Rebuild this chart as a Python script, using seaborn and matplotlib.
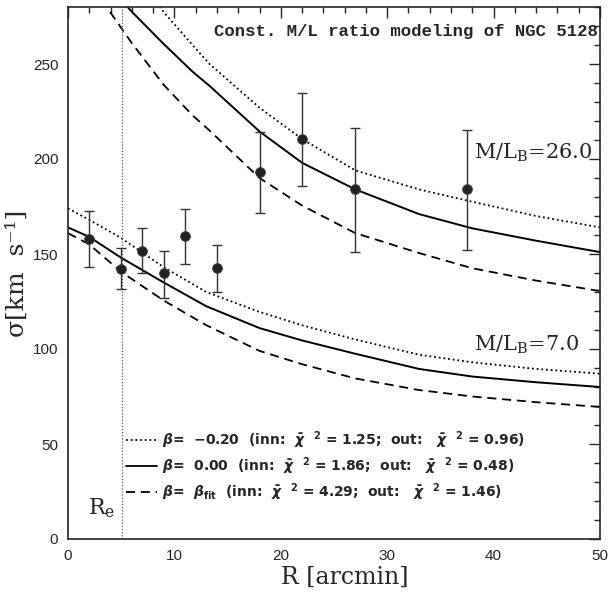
import numpy as np
import pandas as pd
import matplotlib
matplotlib.use("Agg")
import matplotlib.pyplot as plt
import seaborn as sns
from matplotlib.lines import Line2D
from matplotlib.ticker import MultipleLocator

# ---- data ----
r_obs = [2, 5, 7, 9, 11, 14, 18, 22, 27, 37.5]
sigma_obs = [158, 142, 151.5, 140, 159.5, 142.5, 193, 210.4, 184, 184.2]
sigma_hi = [172.6, 153, 163.7, 151.6, 173.7, 155, 214.4, 234.7, 216.3, 215.3]
sigma_lo = [143, 131.6, 140, 127, 145, 130, 171.7, 185.8, 151.2, 152]

r_low = [0, 2, 5, 9, 13, 18, 22, 27, 33, 38, 44, 50]
low_dotted = [174, 168, 158.4, 143, 130, 119.5, 112.5, 105, 97, 93, 89.5, 87]
low_solid = [164, 159, 148, 135, 122.5, 111, 104.5, 97.5, 89.5, 85.5, 82.5, 80]
low_dashed = [161, 155, 140.6, 125.5, 112.5, 99, 92, 84.5, 78.4, 75, 72, 69.5]

r_up = [3, 4, 6, 9, 11.7, 13.3, 18, 22, 27, 33, 38, 44, 50]
up_dotted = [345, 332, 300, 277.3, 260, 250, 227, 210.5, 194, 184, 177.5, 170, 164]
up_solid = [297, 290, 277.5, 260.5, 246, 238.5, 214.5, 198, 184, 171, 163.5, 157, 151]
up_dashed = [287, 277, 261, 239, 223, 215, 190, 175.5, 161, 150.5, 142.5, 136, 130.5]

r_eff = 5.1
legend_labels = [
    r"$\beta$=  $-$0.20  (inn:  $\bar{\chi}$  $^{2}$ = 1.25;  out:   $\bar{\chi}$  $^{2}$ = 0.96)",
    r"$\beta$=  0.00  (inn:  $\bar{\chi}$  $^{2}$ = 1.86;  out:   $\bar{\chi}$  $^{2}$ = 0.48)",
    r"$\beta$=  $\beta_{\rm fit}$  (inn:  $\bar{\chi}$  $^{2}$ = 4.29;  out:   $\bar{\chi}$  $^{2}$ = 1.46)",
]

sns.set_style("white")
plt.rcParams.update({
    "font.family": ["Liberation Sans", "DejaVu Sans"],
    "mathtext.fontset": "custom",
    "mathtext.rm": "DejaVu Sans:bold",
    "mathtext.it": "DejaVu Sans:bold:italic",
    "mathtext.bf": "DejaVu Sans:bold",
    "mathtext.sf": "DejaVu Sans:bold",
})

fig = plt.figure(figsize=(6.08, 5.92), dpi=100)
ax = fig.add_axes([68 / 608, 1 - 539 / 592, 532 / 608, 532 / 592])

dotted = (0, (1, 1.6))
dashed = (0, (5, 3.2))
styles = [dotted, "-", dashed]

for r, ys in [(r_low, [low_dotted, low_solid, low_dashed]),
              (r_up, [up_dotted, up_solid, up_dashed])]:
    for y, ls in zip(ys, styles):
        sns.lineplot(x=r, y=y, ax=ax, color="black", linestyle=ls,
                     lw=1.3 if ls != "-" else 1.4, sort=False)

ax.axvline(r_eff, color="0.35", lw=0.9, linestyle=(0, (1, 1.5)))

obs = pd.DataFrame({"r": r_obs, "s": sigma_obs})
yerr = [np.array(sigma_obs) - np.array(sigma_lo), np.array(sigma_hi) - np.array(sigma_obs)]
ax.errorbar(r_obs, sigma_obs, yerr=yerr, fmt="none", ecolor="0.2",
            elinewidth=1.0, capsize=3.4, capthick=1.0, zorder=3)
sns.scatterplot(data=obs, x="r", y="s", ax=ax, s=50, color="#222222",
                edgecolor="#444444", linewidth=0.6, zorder=4)

ax.set_xlim(0, 50)
ax.set_ylim(0, 280)
ax.xaxis.set_major_locator(MultipleLocator(10))
ax.xaxis.set_minor_locator(MultipleLocator(2))
ax.yaxis.set_major_locator(MultipleLocator(50))
ax.yaxis.set_minor_locator(MultipleLocator(10))
ax.tick_params(which="both", direction="in", top=True, right=True,
               width=1.0, color="0.15")
ax.tick_params(which="major", length=8, labelsize=11, pad=7, labelcolor="0.15")
ax.tick_params(which="minor", length=4.5)
for sp in ax.spines.values():
    sp.set_linewidth(1.2)
    sp.set_color("0.15")

serif = ["DejaVu Serif"]
ax.set_xlabel("R [arcmin]", fontsize=17, family=serif)
ax.xaxis.set_label_coords(0.52, -0.05, transform=ax.transAxes)
ax.set_ylabel("σ[km  s⁻¹]", fontsize=18, family=serif, labelpad=3)

ax.text(49.8, 267, "Const. M/L ratio modeling of NGC 5128", ha="right",
        va="center", fontsize=12.5, family=["Liberation Mono", "DejaVu Sans Mono"],
        fontweight="bold")
ax.text(38.2, 203, r"M/L$_{\rm B}$=26.0", ha="left", va="center",
        fontsize=15, family=serif, math_fontfamily="dejavuserif")
ax.text(38.2, 102, r"M/L$_{\rm B}$=7.0", ha="left", va="center",
        fontsize=15, family=serif, math_fontfamily="dejavuserif")
ax.text(1.9, 16, r"R$_{\rm e}$", ha="left", va="center",
        fontsize=16, family=serif, math_fontfamily="dejavuserif")

handles = [Line2D([], [], color="black", linestyle=ls, lw=1.3) for ls in styles]
leg = ax.legend(handles, legend_labels, loc="lower left",
                bbox_to_anchor=(0.109, 0.068), frameon=False,
                prop={"weight": "bold", "size": 10, "family": "DejaVu Sans"},
                handlelength=2.2, handletextpad=0.4, labelspacing=0.3,
                borderpad=0.0, borderaxespad=0.0)

fig.savefig("out.png", dpi=100)
